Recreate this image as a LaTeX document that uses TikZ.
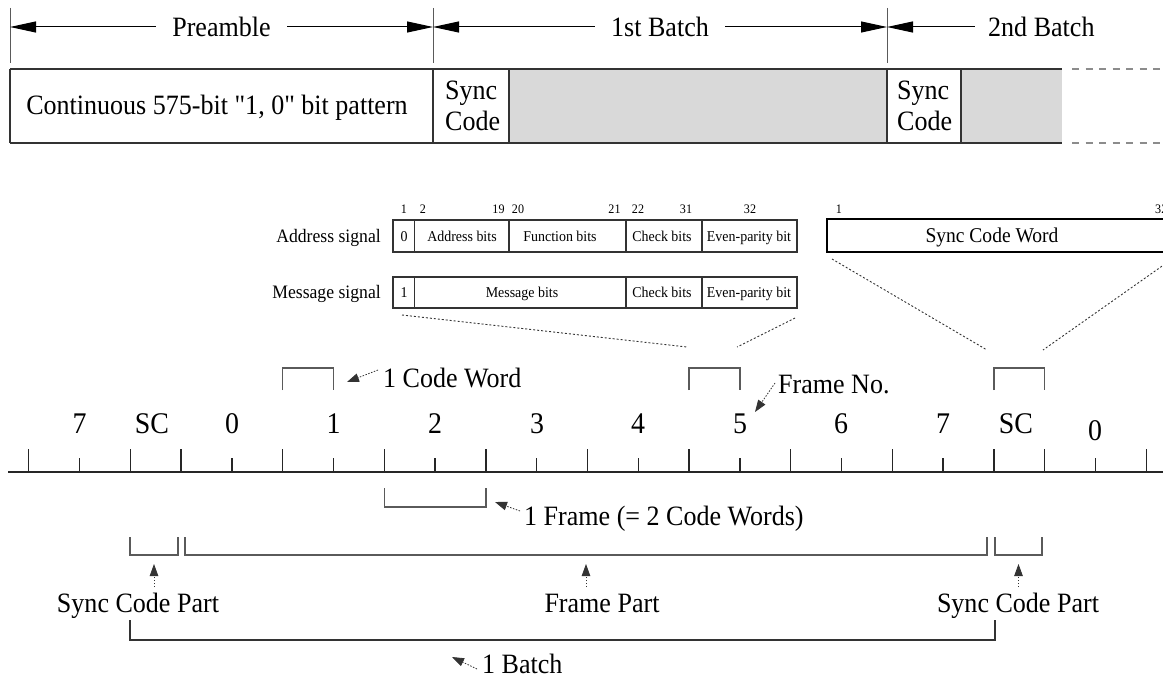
\documentclass[tikz,border=0pt]{standalone}
\usepackage{fontspec}
\setmainfont{Liberation Serif}[FakeStretch=0.93, Ligatures=TeXOff]
\usetikzlibrary{arrows.meta}
\definecolor{ln}{HTML}{333333}
\definecolor{br}{HTML}{5A5A5A}
\definecolor{gfill}{HTML}{D9D9D9}
\definecolor{dsh}{HTML}{8C8C8C}
\begin{document}
\begin{tikzpicture}[x=1pt,y=-1pt,
  T/.style={font=\fontsize{28}{31}\selectfont, inner sep=0pt},
  N/.style={font=\fontsize{30}{33}\selectfont, inner sep=0pt},
  M/.style={font=\fontsize{19}{22}\selectfont, inner sep=0pt},
  W/.style={font=\fontsize{21}{24}\selectfont, inner sep=0pt},
  S/.style={font=\fontsize{15}{17}\selectfont, inner sep=0pt},
  B/.style={font=\fontsize{13}{15}\selectfont, inner sep=0pt},
  sepl/.style={draw=br, line width=1pt},
  topbox/.style={draw=ln, line width=1.6pt},
  bigA/.style={line width=1pt, {Triangle[length=26pt,width=11pt]}-{Triangle[length=26pt,width=11pt]}},
  bigL/.style={line width=1pt, {Triangle[length=26pt,width=11pt]}-},
  dots/.style={draw=ln, line width=0.9pt, dash pattern=on 2pt off 2pt},
  darr/.style={draw=ln, line width=0.8pt, dash pattern=on 1.5pt off 1.5pt, -{Triangle[length=12pt,width=8.5pt]}},
  brk/.style={draw=br, line width=1.3pt},
  smallbox/.style={draw=ln, line width=1.1pt},
  tick/.style={draw=black!85, line width=1.3pt},
  cover/.style={fill=white, inner xsep=16pt, inner ysep=3pt}
]
\useasboundingbox (0,0) rectangle (1163,679);
\clip (0,0) rectangle (1163,679);

% ---------- top separators ----------
\coordinate (v0a) at (10,8);  \coordinate (v0b) at (10,63);
\coordinate (v1a) at (433,8); \coordinate (v1b) at (433,63);
\coordinate (v2a) at (887,8); \coordinate (v2b) at (887,63);
\draw[sepl] (v0a)--(v0b) (v1a)--(v1b) (v2a)--(v2b);

% ---------- top arrows ----------
\coordinate (a0) at (10,27); \coordinate (a1) at (433,27);
\coordinate (a2) at (887,27); \coordinate (a3) at (975,27);
\draw[bigA] (a0) -- node[T, cover] (tPre) {Preamble} (a1);
\draw[bigA] (a1) -- node[T, cover] (tB1) {1st Batch} (a2);
\draw[bigL] (a2) -- (a3);
\node[T, anchor=west] (tB2) at (988,27) {2nd Batch};

% ---------- top boxes ----------
\fill[gfill] (509,69) rectangle (887,143);
\fill[gfill] (961,69) rectangle (1062,143);
\draw[topbox] (10,69) -- (1062,69) (10,143) -- (1062,143);
\draw[topbox, line width=1.3pt] (10,69)--(10,143) (433,69)--(433,143) (509,69)--(509,143)
  (887,69)--(887,143) (961,69)--(961,143);
\node[T, anchor=base] (cont) at (217,115) {Continuous 575-bit "1, 0" bit pattern};
\node[T, anchor=base west] (sc1a) at (445,100) {Sync};
\node[T, anchor=base west] (sc1b) at (445,131) {Code};
\node[T, anchor=base west] (sc2a) at (897,100) {Sync};
\node[T, anchor=base west] (sc2b) at (897,131) {Code};
\draw[dsh, line width=1.5pt, dash pattern=on 7pt off 6.5pt] (1072,69)--(1163,69) (1072,143)--(1163,143);

% ---------- address / message signals ----------
\draw[smallbox] (393,220) rectangle (797,252);
\draw[smallbox] (414.6,220)--(414.6,252) (509,220)--(509,252) (626,220)--(626,252) (702,220)--(702,252);
\draw[smallbox] (393,277) rectangle (797,308);
\draw[smallbox] (414.6,277)--(414.6,308) (626,277)--(626,308) (702,277)--(702,308);

\node[M, anchor=base east] (addr) at (381,243) {Address signal};
\node[M, anchor=base east] (msg) at (381,299) {Message signal};

\node[S, anchor=base] (a0t) at (404,242) {0};
\node[S, anchor=base] (a1t) at (462,242) {Address bits};
\node[S, anchor=base] (a2t) at (560,242) {Function bits};
\node[S, anchor=base] (a3t) at (662,242) {Check bits};
\node[S, anchor=base] (a4t) at (749,242) {Even-parity bit};

\node[S, anchor=base] (m0t) at (404,298) {1};
\node[S, anchor=base] (m1t) at (522,298) {Message bits};
\node[S, anchor=base] (m3t) at (662,298) {Check bits};
\node[S, anchor=base] (m4t) at (749,298) {Even-parity bit};

\node[B, anchor=base] (n1) at (404,214) {1};
\node[B, anchor=base] (n2) at (423,214) {2};
\node[B, anchor=base] (n19) at (498.5,214) {19};
\node[B, anchor=base] (n20) at (518,214) {20};
\node[B, anchor=base] (n21) at (614.5,214) {21};
\node[B, anchor=base] (n22) at (638,214) {22};
\node[B, anchor=base] (n31) at (686,214) {31};
\node[B, anchor=base] (n32) at (750,214) {32};

% sync code word
\draw[draw=black, line width=1.5pt] (827,219) rectangle (1180,252);
\node[W, anchor=base] (scw) at (992,243) {Sync Code Word};
\node[B, anchor=base] (s1) at (839,214) {1};
\node[B, anchor=base west] (s32) at (1155,214) {32};

% dotted zoom lines
\coordinate (d1a) at (402,315); \coordinate (d1b) at (687,347);
\coordinate (d2a) at (795,318); \coordinate (d2b) at (737,347);
\coordinate (d3a) at (832,259); \coordinate (d3b) at (987,350);
\coordinate (d4a) at (1175,257); \coordinate (d4b) at (1043,350);
\draw[dots] (d1a)--(d1b) (d2a)--(d2b) (d3a)--(d3b) (d4a)--(d4b);

% ---------- code-word brackets ----------
\draw[brk] (282.7,390)--(282.7,368)--(333.5,368)--(333.5,390);
\draw[brk] (689.1,390)--(689.1,368)--(739.9,368)--(739.9,390);
\draw[brk] (993.9,390)--(993.9,368)--(1044.7,368)--(1044.7,390);

\node[T, anchor=base west] (cw) at (383,387) {1 Code Word};
\coordinate (cwt) at (378,370); \coordinate (cwh) at (347,382);
\draw[darr] (cwt) -- (cwh);

\node[T, anchor=base west] (fn) at (778,393) {Frame No.};
\coordinate (fnt) at (775,383); \coordinate (fnh) at (755,412);
\draw[darr] (fnt) -- (fnh);

% ---------- axis ----------
\foreach \k in {0,2,3,5,7,9,11,13,15,17,19,20,22}
  \draw[tick] ({28.7+50.8*\k},449) -- ({28.7+50.8*\k},472);
\foreach \k in {1,4,6,8,10,12,14,16,18,21}
  \draw[tick] ({28.7+50.8*\k},458) -- ({28.7+50.8*\k},472);
\draw[draw=black!85, line width=2pt] (8,472) -- (1163,472);

\node[N, anchor=base] (x7a) at (79.5,433) {7};
\node[N, anchor=base] (xsa) at (152,433) {SC};
\node[N, anchor=base] (x0a) at (232,433) {0};
\node[N, anchor=base] (x1) at (333.5,433) {1};
\node[N, anchor=base] (x2) at (435,433) {2};
\node[N, anchor=base] (x3) at (537,433) {3};
\node[N, anchor=base] (x4) at (638,433) {4};
\node[N, anchor=base] (x5) at (740,433) {5};
\node[N, anchor=base] (x6) at (841,433) {6};
\node[N, anchor=base] (x7b) at (943,433) {7};
\node[N, anchor=base] (xsb) at (1016,433) {SC};
\node[N, anchor=base] (x0b) at (1095,440) {0};

% ---------- frame bracket ----------
\draw[brk] (384.3,488)--(384.3,507)--(485.9,507)--(485.9,488);
\node[T, anchor=base west] (fr) at (524,525) {1 Frame (= 2 Code Words)};
\coordinate (frt) at (520,511); \coordinate (frh) at (495,502);
\draw[darr] (frt) -- (frh);

% ---------- part brackets ----------
\draw[brk] (130,537)--(130,555)--(178,555)--(178,537);
\draw[brk] (185,537)--(185,555)--(987,555)--(987,537);
\draw[brk] (995,537)--(995,555)--(1042,555)--(1042,537);

\coordinate (u1t) at (154,587); \coordinate (u1h) at (154,564);
\coordinate (u2t) at (586,587); \coordinate (u2h) at (586,564);
\coordinate (u3t) at (1018.5,587); \coordinate (u3h) at (1018.5,564);
\draw[darr] (u1t) -- (u1h);
\draw[darr] (u2t) -- (u2h);
\draw[darr] (u3t) -- (u3h);

\node[T, anchor=base] (scp1) at (138,612) {Sync Code Part};
\node[T, anchor=base] (fp) at (602,612) {Frame Part};
\node[T, anchor=base] (scp2) at (1018,612) {Sync Code Part};

% ---------- batch bracket ----------
\draw[brk, draw=ln] (130,620)--(130,640)--(995,640)--(995,620);
\node[T, anchor=base west] (bt) at (482,673) {1 Batch};
\coordinate (btt) at (477,669); \coordinate (bth) at (452,657);
\draw[darr] (btt) -- (bth);
\end{tikzpicture}
\end{document}
